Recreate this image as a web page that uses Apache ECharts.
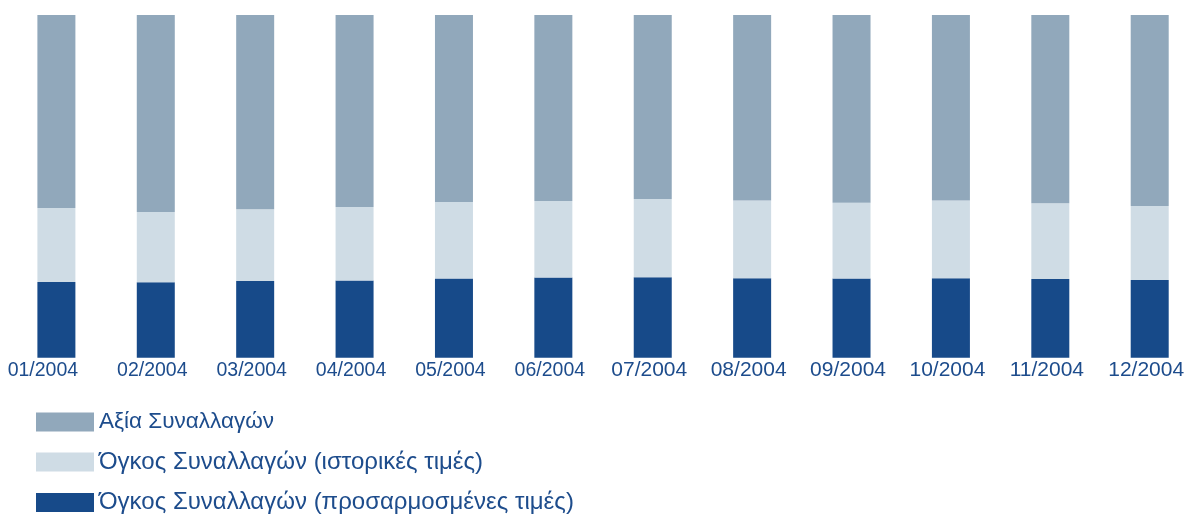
<!DOCTYPE html>
<html>
<head>
<meta charset="utf-8">
<script src="https://cdn.jsdelivr.net/npm/echarts@6/dist/echarts.min.js"></script>
<style>
html,body{margin:0;padding:0;background:#fff;}
#chart{width:1185px;height:515px;}
</style>
</head>
<body>
<div id="chart"></div>
<script>
const categories = ['01/2004','02/2004','03/2004','04/2004','05/2004','06/2004','07/2004','08/2004','09/2004','10/2004','11/2004','12/2004'];
const seriesNames = ['Αξία Συναλλαγών','Όγκος Συναλλαγών (ιστορικές τιμές)','Όγκος Συναλλαγών (προσαρμοσμένες τιμές)'];
const valueShare = [56.3, 57.5, 56.7, 56.0, 54.6, 54.3, 53.7, 54.1, 54.8, 54.1, 54.9, 55.7];
const volumeHistorical = [21.6, 20.5, 20.9, 21.5, 22.3, 22.3, 22.8, 22.7, 22.1, 22.7, 22.1, 21.6];
const volumeAdjusted = [22.1, 22.0, 22.4, 22.5, 23.1, 23.4, 23.5, 23.2, 23.1, 23.2, 23.0, 22.7];

const chart = echarts.init(document.getElementById('chart'), null, {renderer:'canvas'});
const textColor = '#1d4c8c';
const sans = "'Liberation Sans', Arial, sans-serif";
chart.setOption({
  animation: false,
  backgroundColor: '#ffffff',
  grid: {left: 6.7, top: 15, width: 1192.7, bottom: 157.3, containLabel: false, outerBoundsMode: 'none'},
  legend: {
    orient: 'vertical', left: 36, top: 410.5, height: 200, padding: 0,
    itemWidth: 58, itemHeight: 19, itemGap: 16.5,
    icon: 'rect',
    data: seriesNames,
    selectedMode: false,
    formatter: function (name) {
      return (name === seriesNames[0] ? '{a|' : '{b|') + name + '}';
    },
    textStyle: {
      color: textColor, fontFamily: sans, fontSize: 22,
      rich: {
        a: {color: textColor, fontFamily: sans, fontSize: 22.5, height: 22, lineHeight: 22},
        b: {color: textColor, fontFamily: sans, fontSize: 24, height: 22, lineHeight: 22}
      }
    }
  },
  xAxis: {
    type: 'category',
    data: categories,
    axisLine: {show: false},
    axisTick: {show: false},
    axisLabel: {
      interval: 0,
      margin: 2,
      hideOverlap: false,
      formatter: function (v, i) {
        if (i === 0) return '{f|' + v + '}';
        if (i < 6) return '{n|' + v + '}';
        return '{w|' + v + '}';
      },
      rich: {
        f: {fontSize: 19.5, lineHeight: 22, color: textColor, fontFamily: sans, padding: [0, 27, 0, 0]},
        n: {fontSize: 19.5, lineHeight: 22, color: textColor, fontFamily: sans, padding: [0, 7, 0, 0]},
        w: {fontSize: 21, lineHeight: 22, color: textColor, fontFamily: sans, padding: [0, 7, 0, 0]}
      }
    }
  },
  yAxis: {type: 'value', min: 0, max: 100, show: false, splitLine: {show: false}},
  series: [
    {name: seriesNames[2], type: 'bar', stack: 'a', data: volumeAdjusted, barWidth: 38,
     itemStyle: {color: '#174a89'}},
    {name: seriesNames[1], type: 'bar', stack: 'a', data: volumeHistorical, barWidth: 38,
     itemStyle: {color: '#cfdce5'}},
    {name: seriesNames[0], type: 'bar', stack: 'a', data: valueShare, barWidth: 38,
     itemStyle: {color: '#91a8bb'}}
  ]
});
</script>
</body>
</html>
